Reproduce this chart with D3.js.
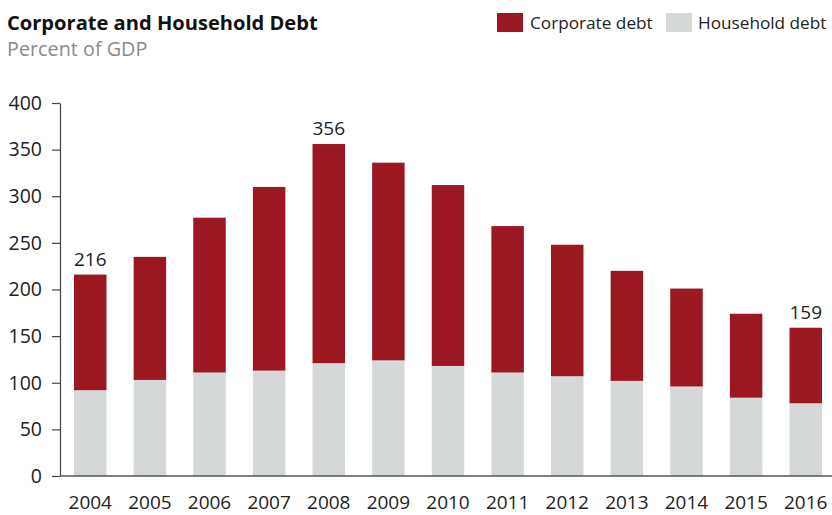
<!DOCTYPE html>
<html>
<head>
<meta charset="utf-8">
<script src="https://cdn.jsdelivr.net/npm/d3@7"></script>
<style>
  html, body { margin: 0; padding: 0; background: #fff; }
  svg { display: block; font-family: "Open Sans", "Noto Sans", sans-serif; }
</style>
</head>
<body>
<svg id="chart" width="832" height="515"></svg>
<script>
const years = ["2004","2005","2006","2007","2008","2009","2010","2011","2012","2013","2014","2015","2016"];
const household = [92, 103, 111, 113, 121, 124, 118, 111, 107, 102, 96, 84, 78];
const corporate = [124, 132, 166, 197, 235, 212, 194, 157, 141, 118, 105, 90, 81];
const yTicks = [0, 50, 100, 150, 200, 250, 300, 350, 400];
const labelledYears = ["2004", "2008", "2016"];
const seriesNames = ["Corporate debt", "Household debt"];
const colors = { corporate: "#9b1820", household: "#d4d8d9" };

const svg = d3.select("#chart");

const x = d3.scaleBand().domain(years).range([60, 836]).paddingInner(0.455).paddingOuter(0.235);
const y = d3.scaleLinear().domain([0, 400]).range([476, 103]);

const rows = years.map((yr, i) => ({ year: yr, household: household[i], corporate: corporate[i] }));
const stack = d3.stack().keys(["household", "corporate"]);
const stacked = stack(rows);

// bars
svg.append("g").selectAll("g")
  .data(stacked)
  .join("g")
  .attr("fill", d => colors[d.key])
  .selectAll("rect")
  .data(d => d)
  .join("rect")
  .attr("x", d => x(d.data.year))
  .attr("width", x.bandwidth())
  .attr("y", d => y(d[1]))
  .attr("height", d => y(d[0]) - y(d[1]));

// value labels
svg.append("g").selectAll("text")
  .data(rows.filter(r => labelledYears.includes(r.year)))
  .join("text")
  .attr("x", d => x(d.year) + x.bandwidth() / 2)
  .attr("y", d => y(d.household + d.corporate) - 9)
  .attr("text-anchor", "middle")
  .attr("font-size", 19)
  .attr("fill", "#222")
  .text(d => d.household + d.corporate);

// y axis
const yAxis = svg.append("g")
  .attr("transform", "translate(60,0)")
  .call(d3.axisLeft(y).tickValues(yTicks).tickSize(8).tickPadding(10).tickSizeOuter(0));
yAxis.select(".domain").attr("stroke", "#444").attr("stroke-width", 1.2);
yAxis.selectAll(".tick line").attr("stroke", "#444").attr("stroke-width", 1.2);
yAxis.selectAll(".tick text").attr("font-size", 19.5).attr("fill", "#222")
  .attr("font-family", "'Open Sans', 'Noto Sans', sans-serif");

// x axis
const xAxis = svg.append("g")
  .attr("transform", "translate(0,476)")
  .call(d3.axisBottom(x).tickSize(0).tickPadding(20));
xAxis.select(".domain").attr("d", "M60,0H832").attr("stroke", "#555").attr("stroke-width", 1.6);
xAxis.selectAll(".tick text").attr("font-size", 19).attr("fill", "#222")
  .attr("font-family", "'Open Sans', 'Noto Sans', sans-serif");

// title
svg.append("text")
  .attr("x", 7).attr("y", 30)
  .attr("font-size", 20.1).attr("font-weight", "bold").attr("fill", "#111")
  .text("Corporate and Household Debt");
svg.append("text")
  .attr("x", 7).attr("y", 56)
  .attr("font-size", 19.8).attr("fill", "#8a8a8a")
  .text("Percent of GDP");

// legend
const legend = svg.append("g");
const legendItems = [
  { name: seriesNames[0], color: colors.corporate, x: 497, tx: 530 },
  { name: seriesNames[1], color: colors.household, x: 666, tx: 698 }
];
legendItems.forEach(it => {
  legend.append("rect").attr("x", it.x).attr("y", 13).attr("width", 26).attr("height", 19).attr("fill", it.color);
  legend.append("text").attr("x", it.tx).attr("y", 29).attr("font-size", 17.2).attr("fill", "#222").text(it.name);
});
</script>
</body>
</html>
